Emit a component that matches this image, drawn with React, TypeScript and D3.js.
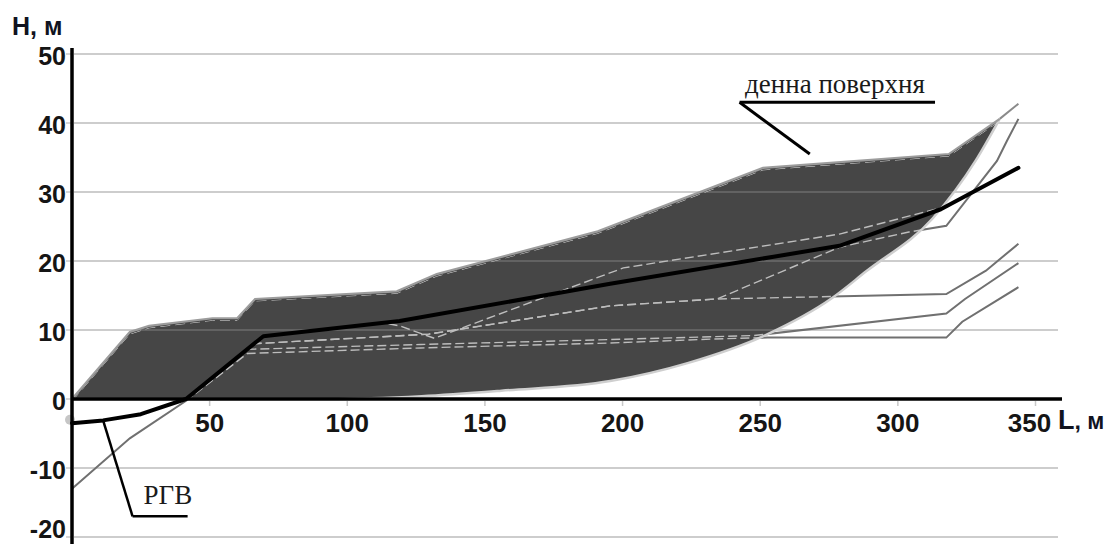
import React from "react";
import * as d3 from "d3";

type Pt = [number, number];

// axis ticks
const xTicks = [50, 100, 150, 200, 250, 300, 350];
const yTicks = [-20, -10, 0, 10, 20, 30, 40, 50];

// денна поверхня (top of the dump)
const surface: Pt[] = [
  [0, 0], [21, 9.7], [28, 10.6], [51, 11.7], [60, 11.7], [66.5, 14.5],
  [118, 15.6], [132.5, 18.1], [191, 24.3], [251, 33.5], [318.5, 35.5],
  [337, 40.6], [343.8, 42.8],
];

// bottom contour of the dark body
const bottom: Pt[] = [
  [0, 0], [93, 0], [127, 0.4], [156, 1.2], [195.5, 2.6], [223.6, 5.2],
  [252.7, 9.4], [276, 14.6], [288.5, 18.5], [312.7, 26.2], [328.2, 34.5], [337, 40.6],
];

// РГВ
const rgv: Pt[] = [
  [0, -3.5], [11.3, -3.1], [25, -2.2], [41.4, 0], [69.5, 9.1], [119, 11.3],
  [195.5, 16.7], [278.8, 22.2], [315.6, 27.5], [343.8, 33.5],
];

// other levels
const levelA: Pt[] = [
  [0, -13], [21, -5.7], [42.4, 0], [63.7, 6.6], [126.7, 7.4], [194.5, 8.1],
  [233.3, 8.7], [252.7, 8.9], [317.6, 8.9], [323.4, 11.2], [343.8, 16.2],
];
const levelB: Pt[] = [
  [63.7, 7.2], [126.7, 7.9], [194.5, 8.6], [247.8, 9.2], [317.6, 12.4],
  [324.4, 14.5], [343.8, 19.7],
];
const levelC: Pt[] = [
  [65.6, 8], [129.6, 9.4], [195.5, 13.5], [234.3, 14.5], [278.8, 22],
  [304, 24.2], [317.6, 25.1], [336, 34.5], [339.6, 37.4], [343.8, 40.6],
];
const levelD: Pt[] = [
  [65.6, 8], [129.6, 9.4], [195.5, 13.5], [234.3, 14.5], [317.6, 15.2],
  [332, 18.6], [343.8, 22.5],
];
const levelE: Pt[] = [
  [115, 10.9], [119, 10.6], [131.6, 8.8], [200.3, 19], [278.8, 23.9],
  [315.6, 27.7], [318.6, 28],
];

const W = 1110;
const H = 544;

export default function App() {
  const x = d3.scaleLinear().domain([0, 350]).range([72, 1035.5]);
  const y = d3.scaleLinear().domain([-20, 50]).range([537, 54]);
  const line = d3.line<Pt>().x((d) => x(d[0])).y((d) => y(d[1]));
  const smooth = d3
    .line<Pt>()
    .x((d) => x(d[0]))
    .y((d) => y(d[1]))
    .curve(d3.curveMonotoneX);

  const jL = bottom[bottom.length - 1][0];
  const top = surface.filter((d) => d[0] <= jL).slice().reverse();
  const body =
    smooth(bottom) + top.map((d) => `L${x(d[0])},${y(d[1])}`).join("") + "Z";

  const levels = [levelA, levelB, levelC, levelD, levelE];
  const serif = "'Liberation Serif', 'Times New Roman', serif";
  const sans = "'Liberation Sans', Arial, sans-serif";

  const grid = yTicks.filter((t) => t !== 0);

  return (
    <svg
      width={W}
      height={H}
      style={{ position: "absolute", left: 0, top: 0, background: "#fff" }}
    >
      <defs>
        <clipPath id="inside">
          <path d={body} />
        </clipPath>
        <mask id="outside">
          <rect width={W} height={H} fill="white" />
          <path d={body} fill="black" />
        </mask>
      </defs>

      {/* grid */}
      {grid.map((t) => (
        <line key={t} x1={x(0) + 2} x2={1058} y1={y(t)} y2={y(t)} stroke="#cdcdcd" strokeWidth={2} />
      ))}

      {/* dark body */}
      <path d={body} fill="#464646" />
      <g clipPath="url(#inside)">
        {grid.map((t) => (
          <line key={t} x1={x(0)} x2={1058} y1={y(t)} y2={y(t)} stroke="#6c6c6c" strokeWidth={1.5} />
        ))}
      </g>

      {/* levels outside the body */}
      <g mask="url(#outside)" fill="none">
        {levels.map((l, i) => (
          <path key={i} d={line(l) || ""} stroke="#707070" strokeWidth={2} />
        ))}
        <path d={line(surface.filter((d) => d[0] >= jL)) || ""} stroke="#8a8a8a" strokeWidth={2} />
      </g>
      {/* levels inside the body */}
      <g clipPath="url(#inside)" fill="none">
        {levels.map((l, i) => (
          <path key={i} d={line(l) || ""} stroke="#bdbdbd" strokeWidth={1.4} strokeDasharray="9 4" />
        ))}
      </g>

      {/* body contour */}
      <path d={smooth(bottom) || ""} fill="none" stroke="#cfcfcf" strokeWidth={2.5} />
      <path d={line(surface.filter((d) => d[0] <= jL)) || ""} fill="none" stroke="#9c9c9c" strokeWidth={2.2} />
      <path
        d={line(surface.filter((d) => d[0] <= jL)) || ""}
        fill="none"
        stroke="#d6d6d6"
        strokeWidth={1}
        strokeDasharray="10 5"
        transform="translate(0,2)"
        clipPath="url(#inside)"
      />

      {/* ticks */}
      {xTicks.map((t) => (
        <line key={t} x1={x(t)} x2={x(t)} y1={y(0) + 2} y2={y(0) + 7} stroke="#c8c8c8" strokeWidth={1.5} />
      ))}
      {yTicks.map((t) => (
        <line key={t} x1={x(0) - 6} x2={x(0)} y1={y(t)} y2={y(t)} stroke="#c8c8c8" strokeWidth={1.5} />
      ))}

      <circle cx={x(0) - 2} cy={y(-3)} r={5} fill="#c6c6c6" />

      {/* axes */}
      <line x1={x(0)} x2={x(0)} y1={48} y2={H} stroke="#000" strokeWidth={3.5} />
      <line x1={x(0)} x2={1062} y1={y(0)} y2={y(0)} stroke="#000" strokeWidth={3.5} />

      {/* РГВ */}
      <path d={line(rgv) || ""} fill="none" stroke="#000" strokeWidth={4} strokeLinejoin="round" strokeLinecap="round" />

      {/* tick labels */}
      {yTicks.map((t) => (
        <text key={t} x={66} y={Math.min(y(t) + 11, 538)} textAnchor="end" fontFamily={sans} fontWeight="bold" fontSize={25} fill="#151515">
          {t}
        </text>
      ))}
      {xTicks.map((t) => (
        <text key={t} x={x(t) - (t === 350 ? 6 : 0)} y={432} textAnchor="middle" fontFamily={sans} fontWeight="bold" fontSize={26} fill="#151515">
          {t}
        </text>
      ))}
      <text x={12} y={35} fontFamily={sans} fontWeight="bold" fontSize={25} fill="#10131f">
        H, м
      </text>
      <text x={1058} y={429} fontFamily={sans} fontWeight="bold" fill="#10131f">
        <tspan fontSize={27}>L</tspan>
        <tspan fontSize={23}>, м</tspan>
      </text>

      {/* annotations */}
      <text x={x(244.5)} y={y(44.3)} fontFamily={serif} fontSize={27} fill="#1a1a1a">
        денна поверхня
      </text>
      <line x1={x(242.5)} x2={x(313.5)} y1={y(43)} y2={y(43)} stroke="#000" strokeWidth={3} />
      <line x1={x(242.5)} x2={x(268)} y1={y(43)} y2={y(35.5)} stroke="#000" strokeWidth={3} />

      <text x={x(26)} y={y(-15.2)} fontFamily={serif} fontSize={27} fill="#1a1a1a">
        РГВ
      </text>
      <line x1={x(22)} x2={x(42)} y1={y(-17)} y2={y(-17)} stroke="#000" strokeWidth={2.5} />
      <line x1={x(22)} x2={x(11.3)} y1={y(-17)} y2={y(-3.1)} stroke="#000" strokeWidth={2.5} />
    </svg>
  );
}
